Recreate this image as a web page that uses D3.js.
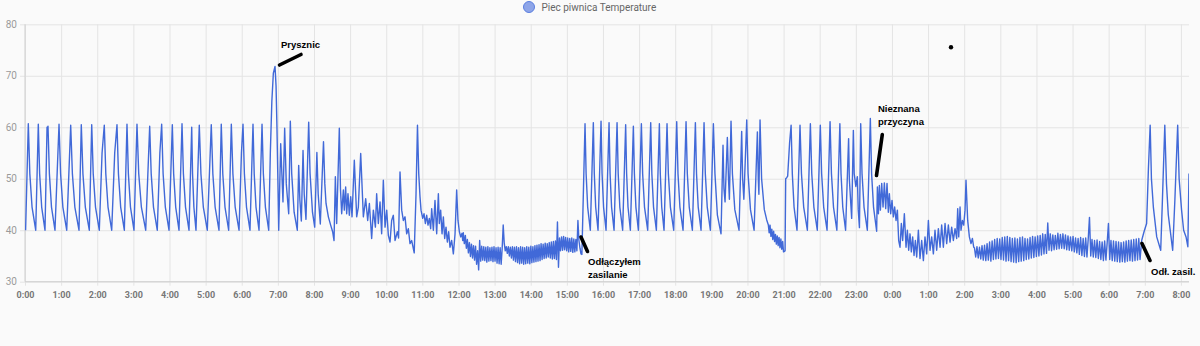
<!DOCTYPE html>
<html>
<head>
<meta charset="utf-8">
<script src="https://cdn.jsdelivr.net/npm/d3@7"></script>
<style>
  html, body { margin: 0; padding: 0; background: #fafafa; }
  svg { display: block; font-family: Roboto, "Noto Sans", sans-serif; }
</style>
</head>
<body>
<svg id="chart" width="1200" height="346"></svg>
<script>
// Boiler temperature, minutes since midnight of the first day -> °C.

// 0:00–7:00, regular burner cycles, ending with the shower spike
const overnightCycles = [
  [1,40],[5.5,60.7],[8.0,51],[11.7,44.5],
  [17.8,40],[22.1,60.6],[24.3,51],[27.7,44.5],
  [33.2,40],[36.6,60.0],[37.3,59.4],[38.2,60.2],[40.5,51],[44.0,44.5],
  [49.8,40],[56.5,60.6],[59.1,51],[62.9,44.5],
  [69.3,40],[75.9,60.4],[78.7,51],[82.8,44.5],
  [89.7,40],[93.5,60.5],[96.2,51],[100.2,44.5],
  [106.8,40],[110.8,60.5],[113.3,51],[117.1,44.5],
  [123.4,40],[128,55],[131.7,60.4],[134.2,51],[137.9,44.5],
  [144,40],[149,55],[152.8,60.5],[155.2,51],[158.9,44.5],
  [165,40],[169.4,60.6],[171.7,51],[175.2,44.5],
  [181,40],[186,60.6],[188.9,51],[193.3,44.5],
  [200.5,40],[207.1,60.2],[209.6,51],[213.4,44.5],
  [219.7,40],[224,55],[227,60.6],[229.4,51],[233.1,44.5],
  [239.2,40],[244.7,60.5],[246.9,51],[250.3,44.5],
  [255.8,40],[260.8,60.7],[263.1,51],[266.6,44.5],
  [272.4,40],[276.9,60.0],[278.3,51],[280.5,44.5],
  [284,40],[289.5,60.4],[292.2,51],[296.2,44.5],
  [302.8,40],[309.4,60.5],[312,51],[315.8,44.5],
  [322.2,40],[326,60.6],[328.5,51],[332.2,44.5],
  [338.3,40],[342.7,60.6],[345.3,51],[349.1,44.5],
  [355.5,40],[359.5,55],[362.1,60.6],[364.4,51],[367.9,44.5],
  [373.7,40],[378.7,60.6],[380.7,51],[383.7,44.5],
  [388.7,40],[393.7,60.6],[395.9,51],[399.3,44.5],
  [404.8,40],[407.5,55],[410,65],[412.5,70.5],[415.3,71.8],[417,68],[418.5,60],[420,50],[421.4,40]
];

// 7:00–12:08, irregular cycles drifting down
const afternoonDrift = [
  [424.7,56.8],[428.5,45.5],[431.3,59.8],[434,49],[438,43.2],[440.7,61.2],[443,51],[447,43.5],[452.3,40],
  [454.6,52.6],[456.5,46],[459,41.8],[461.8,55.5],[463.8,47],[466.7,42.1],[471.2,61],[473.5,51],[477.5,43.5],
  [481.2,40.6],[484.8,55.1],[487,47],[490.5,41.2],[495.8,57.2],[498,49],[500,45.2],[503.9,42.6],[507.7,41],
  [511,39.7],[513.3,38],[515.5,50.4],[517.7,41.3],[522.1,59.8],[524,48],[526,43.2],[528.8,47.8],[530.4,43.9],
  [532.6,48.4],[534.3,43.2],[536.5,47.1],[538.7,42.9],[541,46.5],[543.2,42.6],[547,53.6],[550.9,42.6],
  [553.7,44.5],[557.6,54.9],[562,42.6],[565.9,46.1],[569.2,41.9],[572,45.2],[575.8,38.4],[578.6,43.9],
  [582,40.6],[584.1,47.1],[586.9,41.3],[589.7,45.5],[592.4,39.3],[595.2,49.7],[598,40.6],[600.8,43.9],
  [603.5,39],[606.3,37.7],[609,41.9],[611.8,42.9],[614.6,38],[618.5,39.7],[620.5,38.5],[622.9,51.3],
  [625.7,43.9],[628.4,41.9],[631.2,42.6],[634,39.3],[636.7,40.3],[639.5,37.4],[642.3,38],[646.5,35.6],
  [649.5,47.1],[651.9,60.4],[654,51],[656.1,46.5],[657.8,43.9],[660.6,42.3],[662.8,43.2],[665,41.3],
  [667.2,42.9],[669.4,41],[671.6,42.3],[673.8,40.3],[675.5,44.2],[678.3,40],[681,45.8],[683.8,39.3],
  [686.6,47.1],[688.2,41.3],[690.4,43.9],[692.7,39.3],[694.9,42.6],[697.1,38.4],[699.3,40.6],[701.5,37.7],
  [703.7,39.7],[705.9,36.7],[708.7,38],[711.5,35.4],[714.3,39.3],[717,47.8],[719.2,41.9],[721.5,39.7],
  [723.7,38.7],[725.9,39.4],[727,38]
];

// 12:08–15:24, short flicker samples at a fixed step
const noonBandStart = 728;
const noonBandStep = 1.7;
const noonBand = [
  39.5,37.4,39.0,36.5,38.2,35.6,37.6,34.9,37.3,34.6,
  37.0,34.2,36.9,33.4,36.0,32.3,38.0,34.0,36.9,34.2,
  36.8,34.1,36.7,33.8,36.8,34.0,36.6,34.1,36.7,33.9,
  36.8,34.0,36.6,33.6,36.7,33.5,36.6,33.4,36.5,41.0,
  37.5,36.0,36.8,35.5,36.8,35.0,36.7,34.6,36.8,34.2,
  36.7,33.9,36.8,33.7,36.6,33.5,36.8,33.6,36.7,33.4,
  36.6,33.5,36.8,33.6,36.7,33.5,36.9,33.7,36.8,33.8,
  37.0,33.9,37.1,34.0,37.2,34.1,37.4,34.3,37.3,34.5,
  37.5,34.6,37.4,34.8,37.6,34.6,37.7,34.4,37.8,34.5,
  37.9,34.3,41.6,32.8,38.5,36.0,38.7,36.1,38.8,36.2,
  38.6,36.0,38.5,35.8,38.4,35.9,38.5,35.7,38.3,35.8,
  38.2,36.0,41.9,38.0,36.5,35.4
];

// 15:25–23:35, burner cycles after power was restored
const eveningCycles = [
  [925,35.3],[930.2,60.7],[932,51],[934.6,44.5],
  [939,40],[944,60.9],[945.6,51],[947.9,44.5],
  [951.8,40],[956.8,61.2],[958.5,51],[961,44.5],
  [965.1,40],[970.1,60.9],[971.8,51],[974.3,44.5],
  [978.4,40],[983.4,60.9],[985.3,51],[988,44.5],
  [992.7,40],[997.7,60.5],[999.3,51],[1001.6,44.5],
  [1005.5,40],[1010.5,60.2],[1012.2,51],[1014.7,44.5],
  [1018.8,40],[1023.8,60.7],[1025.9,51],[1029,44.5],
  [1034.3,40],[1039.3,60.9],[1041.2,51],[1044,44.5],
  [1048.7,40],[1053.7,60.7],[1055.2,51],[1057.6,44.5],
  [1061.4,40],[1066.4,60.7],[1068.6,51],[1072,44.5],
  [1077.5,40],[1082.5,61.1],[1084.6,51],[1087.8,44.5],
  [1093,40],[1098,61.1],[1100.1,51],[1103.3,44.5],
  [1108.5,40],[1113.5,60.9],[1115.4,51],[1118.2,44.5],
  [1122.9,40],[1127.9,60.9],[1130,51],[1133.2,44.5],
  [1138.4,40],[1143.4,60.7],[1146,51],[1150,43],[1156.1,39.3],
  [1159.4,56.5],[1161,48],[1162.8,45.5],
  [1166.6,58],[1168.5,50],[1170,46],
  [1172.7,61.2],[1175,51],[1179,44],[1186,40],
  [1190.4,59.2],[1192,50],[1194,46],
  [1198.8,61.4],[1201,51],[1205,44],[1211,40],
  [1216.5,59.1],[1218,50],[1219,47],
  [1220.9,61.4],[1223.5,50],[1228,44],[1232,42],[1234.7,41],
  [1236,39.5],[1237.5,41],[1239,38.8],[1240.5,40.2],[1242,38.2],[1243.5,39.8],[1245,37.8],[1246.5,39.2],
  [1248,37.3],[1249.5,38.9],[1251,37],[1252.5,38.6],[1254,36.6],[1255.5,38.3],[1257,36.3],[1258.5,37.8],
  [1259.9,35.8],[1262.5,36],
  [1263.5,50],[1265.2,50.2],[1266.8,50.5],[1270,57],[1272.5,60.4],[1274.5,51],[1277.4,44.5],
  [1282.3,40],[1287.3,60.4],[1289.7,51],[1293.4,44.5],
  [1299.5,40],[1304.5,60.7],[1306.8,51],[1310.3,44.5],
  [1316,40],[1321,60.4],[1323.2,51],[1326.6,44.5],
  [1332.2,40],[1337.2,61.1],[1339.5,51],[1342.9,44.5],
  [1348.5,40],[1353.5,60.7],[1355.4,51],[1358.3,44.5],
  [1363,40],[1368,57.8],[1369.2,50],[1373.1,42.3],
  [1375.9,59.4],[1377.3,51],[1380,48.5],[1382.5,50.4],[1384,44],[1386,40.5],
  [1388.1,60.7],[1390.3,51],[1393.6,44.5],[1399.1,40],
  [1404.1,61.7],[1406.2,51],[1409.4,44.5],[1414.6,39.8]
];

// 23:35–2:17 of the second day, unexplained flicker
const nightDrift = [
  [1415.8,48.4],[1417.5,43.2],[1419.1,48.7],[1420.8,43.9],[1423,49.1],[1425.2,44.5],[1427.4,49.2],
  [1429.6,44.2],[1431.8,49.1],[1434,43.5],[1435.7,47.1],[1437.9,43.2],[1440.1,45.8],[1442.3,42.6],
  [1444.5,44.5],[1446.8,41.9],[1449,43.9],[1451.2,38],[1453.4,36.7],[1455.6,41.3],[1457.8,38],
  [1460.6,43.2],[1463.4,36.7],[1465.6,40],[1467.8,36.1],[1470,39.3],[1472.2,35.8],[1474.4,38.7],
  [1476.7,35.1],[1478.9,38],[1481.1,34.8],[1483.9,40],[1486.6,34.5],[1489.4,38],[1492.2,34.1],
  [1494.9,38.7],[1497.7,35.4],[1500.5,41.9],[1503.2,36.1],[1506,38.7],[1508.8,35.4],[1511.5,40],
  [1514.3,36.1],[1517.1,40.3],[1519.9,36.7],[1522.6,41],[1525.4,36.7],[1528.2,41.3],[1530.9,37.4],
  [1533.7,41],[1536.5,37.7],[1539.2,40.6],[1542,38],[1544.8,40.3],[1547.5,38.4],[1549.2,44.2],
  [1550.9,38.7],[1553.1,44.5],[1554.7,40],[1557,41.9],[1559.2,41],[1561.4,43.9],[1563,49.7],
  [1565.8,41.9],[1568.6,38.7],[1571.3,37.4],[1573.6,38.4],[1575.8,36.7]
];

// 2:17–6:55 of the second day, fixed-step flicker samples
const morningBandStart = 1577;
const morningBandStep = 2.1;
const morningBand = [
  36.6,34.8,36.8,34.6,36.7,34.4,37.0,34.2,37.1,34.1,
  37.4,34.2,37.7,34.0,37.9,34.3,38.2,34.4,38.4,34.5,
  38.3,34.3,38.6,34.2,38.7,34.0,38.8,34.1,38.6,33.9,
  38.4,33.8,38.5,33.7,38.3,33.9,38.6,34.0,38.7,34.1,
  38.4,34.3,38.3,34.4,38.6,34.6,38.8,34.7,38.7,34.9,
  38.9,35.0,39.0,35.2,39.3,35.4,39.2,35.5,41.4,36.1,
  39.3,36.0,39.1,36.2,39.0,36.3,39.4,36.4,39.2,36.5,
  39.3,36.4,39.1,36.2,38.9,36.1,38.7,36.0,38.8,35.8,
  38.5,35.6,38.4,35.3,38.6,35.1,38.4,34.9,38.5,34.8,
  38.3,42.5,35.0,38.2,34.8,38.0,34.7,38.1,34.5,37.8,
  34.3,37.7,34.1,37.9,34.2,37.6,41.3,34.3,38.0,34.1,
  37.9,34.0,37.8,33.9,37.7,33.8,37.6,33.9,37.7,33.8,
  37.9,34.0,38.0,34.1,38.1,34.0,38.2,34.1,38.3,34.2,
  38.4,34.3
];

// 6:55–8:13 of the second day, cycles again
const morningCycles = [
  [1854.8,38],[1858.7,39.7],[1863,41.3],[1866,52],[1868.9,60.4],[1871,50],[1874.2,44.5],[1879.8,38.7],
  [1886.4,36.1],[1889,45],[1893.2,60.4],[1896,49],[1899,43],[1906.3,36.1],[1910,46],[1914.6,60.4],
  [1917,50],[1921,44],[1924.5,40],[1928.5,38.7],[1931.5,36.8],[1933.4,51]
];

const yTicks = [30, 40, 50, 60, 70, 80];
const seriesName = "Piec piwnica Temperature";
const endMinute = 1933.4;

const notes = [
  { lines: ["Prysznic"], x: 281, y: 47.5, from: [279.5, 65], to: [301, 54.5] },
  { lines: ["Odłączyłem", "zasilanie"], x: 588, y: 264.5, from: [581, 237], to: [587.5, 251.5] },
  { lines: ["Nieznana", "przyczyna"], x: 878, y: 111.8, from: [882.3, 134.5], to: [876.5, 175.5] },
  { lines: ["Odł. zasil."], x: 1151, y: 274.5, from: [1142, 243.5], to: [1150, 260.5] }
];

// ---------------------------------------------------------------

const day0 = new Date(2021, 0, 11, 0, 0, 0);
const at = m => new Date(day0.getTime() + m * 60000);

const fromBand = (start, step, vals) => vals.map((v, i) => [start + i * step, v]);
const samples = [
  ...overnightCycles,
  ...afternoonDrift,
  ...fromBand(noonBandStart, noonBandStep, noonBand),
  ...eveningCycles,
  ...nightDrift,
  ...fromBand(morningBandStart, morningBandStep, morningBand),
  ...morningCycles
].map(([m, v]) => ({ t: at(m), v }));

const plotLeft = 25, plotRight = 1189, plotTop = 24.3, plotBottom = 281.7;
const x = d3.scaleTime().domain([at(0), at(endMinute)]).range([plotLeft, plotRight]);
const y = d3.scaleLinear().domain([30, 80]).range([plotBottom, plotTop]);

const svg = d3.select("#chart");

// horizontal grid + y labels
const yAxis = svg.append("g")
  .attr("transform", `translate(${plotLeft - 5},0)`)
  .call(d3.axisLeft(y).tickValues(yTicks).tickSize(-(plotRight - plotLeft + 5)).tickPadding(3)
    .tickFormat(d3.format("d")));
yAxis.select(".domain").remove();
yAxis.selectAll(".tick line").attr("stroke", "#e4e4e4").attr("stroke-width", 1);
yAxis.selectAll(".tick text").attr("fill", "#9a9a9a").attr("font-size", "10px")
  .attr("font-family", "Roboto, sans-serif");

// vertical grid + hour labels
const xAxis = svg.append("g")
  .attr("transform", `translate(0,${plotBottom + 4})`)
  .call(d3.axisBottom(x).ticks(d3.timeHour.every(1)).tickSize(-(plotBottom + 4 - plotTop)).tickPadding(6)
    .tickFormat(d3.timeFormat("%-H:%M")));
xAxis.select(".domain").remove();
xAxis.selectAll(".tick line").attr("stroke", "#e4e4e4").attr("stroke-width", 1);
xAxis.selectAll(".tick text").attr("fill", "#777").attr("font-size", "9px").attr("font-weight", "bold")
  .attr("font-family", "Roboto, sans-serif");

// axis lines
svg.append("line").attr("x1", plotLeft).attr("x2", plotLeft).attr("y1", plotTop).attr("y2", plotBottom)
  .attr("stroke", "#cfcfcf");
svg.append("line").attr("x1", plotLeft).attr("x2", plotRight).attr("y1", plotBottom).attr("y2", plotBottom)
  .attr("stroke", "#cfcfcf");

// temperature line
svg.append("clipPath").attr("id", "plot").append("rect")
  .attr("x", plotLeft).attr("y", 0).attr("width", plotRight - plotLeft).attr("height", plotBottom + 2);
svg.append("path")
  .datum(samples)
  .attr("clip-path", "url(#plot)")
  .attr("fill", "none")
  .attr("stroke", "#4169d8")
  .attr("stroke-width", 1.4)
  .attr("stroke-linejoin", "round")
  .attr("d", d3.line().x(d => x(d.t)).y(d => y(d.v)));

// legend
svg.append("circle").attr("cx", 529).attr("cy", 7).attr("r", 5.5)
  .attr("fill", "#8ea5e8").attr("stroke", "#5b7fe0").attr("stroke-width", 1);
svg.append("text").attr("x", 541.5).attr("y", 10.8).text(seriesName)
  .attr("fill", "#666").attr("font-size", "10px").attr("font-family", "Roboto, sans-serif");

// hand-written notes
const ng = svg.append("g");
notes.forEach(n => {
  ng.append("line")
    .attr("x1", n.from[0]).attr("y1", n.from[1]).attr("x2", n.to[0]).attr("y2", n.to[1])
    .attr("stroke", "#000").attr("stroke-width", 3.6).attr("stroke-linecap", "round");
  n.lines.forEach((s, i) => {
    ng.append("text").attr("x", n.x).attr("y", n.y + i * 13.5).text(s)
      .attr("fill", "#000").attr("font-size", "9.5px").attr("font-weight", "bold")
      .attr("font-family", "'Liberation Sans', Arial, sans-serif");
  });
});
ng.append("circle").attr("cx", 951).attr("cy", 47.3).attr("r", 2.2).attr("fill", "#000");
</script>
</body>
</html>
